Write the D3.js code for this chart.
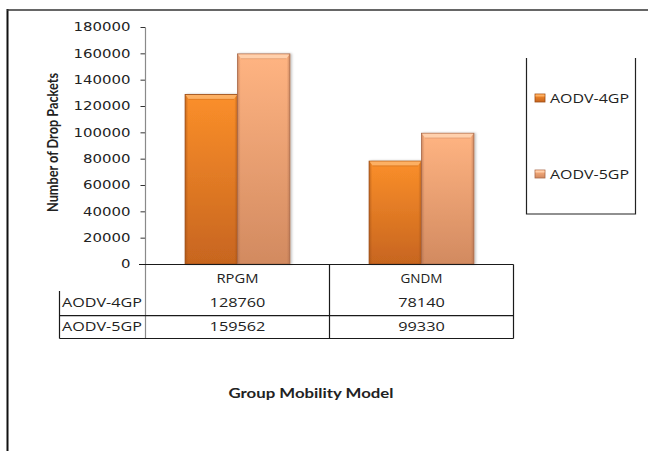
<!DOCTYPE html>
<html>
<head>
<meta charset="utf-8">
<script src="https://cdn.jsdelivr.net/npm/d3@7"></script>
<style>
  html, body { margin: 0; padding: 0; background: #fff; }
  svg { display: block; }
  text { fill: #222; }
</style>
</head>
<body>
<svg id="chart" width="648" height="451"></svg>
<script>
// Drop packets per group mobility model
const categories = ["RPGM", "GNDM"];
const seriesNames = ["AODV-4GP", "AODV-5GP"];
const aodv4gp = [128760, 78140];
const aodv5gp = [159562, 99330];
const yTicks = [0, 20000, 40000, 60000, 80000, 100000, 120000, 140000, 160000, 180000];

const seriesValues = [aodv4gp, aodv5gp];
const svg = d3.select("#chart");
const defs = svg.append("defs");

// Bar gradients: base body, then a bevel highlight on top
const palette = [
  { top: "#fb8f2a", bottom: "#c7651f", edge: "#9c4d14", hi: "#fdb063" },
  { top: "#ffb482", bottom: "#d28a60", edge: "#a8694a", hi: "#ffd0ac" }
];
palette.forEach((p, i) => {
  const g = defs.append("linearGradient").attr("id", "body" + i)
    .attr("x1", 0).attr("y1", 0).attr("x2", 0).attr("y2", 1);
  g.append("stop").attr("offset", "0%").attr("stop-color", p.top);
  g.append("stop").attr("offset", "100%").attr("stop-color", p.bottom);
  const s = defs.append("linearGradient").attr("id", "side" + i)
    .attr("x1", 0).attr("y1", 0).attr("x2", 1).attr("y2", 0);
  s.append("stop").attr("offset", "0%").attr("stop-color", p.edge).attr("stop-opacity", 0.55);
  s.append("stop").attr("offset", "6%").attr("stop-color", p.edge).attr("stop-opacity", 0);
  s.append("stop").attr("offset", "94%").attr("stop-color", p.edge).attr("stop-opacity", 0);
  s.append("stop").attr("offset", "100%").attr("stop-color", p.edge).attr("stop-opacity", 0.55);
});
// Soft shadow behind the bars
const shadow = defs.append("filter").attr("id", "shadow").attr("x", "-10%").attr("y", "-10%").attr("width", "130%").attr("height", "120%");
shadow.append("feDropShadow").attr("dx", 1.5).attr("dy", 0).attr("stdDeviation", 1.2)
  .attr("flood-color", "#000").attr("flood-opacity", 0.25);

// Outer frame (left and top edges)
svg.append("line").attr("x1", 7.5).attr("x2", 7.5).attr("y1", 9).attr("y2", 451)
  .attr("stroke", "#111").attr("stroke-width", 2);
svg.append("line").attr("x1", 7).attr("x2", 648).attr("y1", 10).attr("y2", 10)
  .attr("stroke", "#333").attr("stroke-width", 1.5);

// Scales
const y = d3.scaleLinear().domain([0, 180000]).range([264, 27]);
const x0 = d3.scaleBand().domain(categories).range([145.5, 513.5]).paddingInner(0).paddingOuter(0);
const x1 = d3.scaleBand().domain(seriesNames).range([0, x0.bandwidth()]).paddingInner(0).paddingOuter(0.755);

// Y axis
const yAxis = d3.axisLeft(y).tickValues(yTicks).tickSize(5).tickPadding(10).tickFormat(d3.format("d"));
const gy = svg.append("g").attr("transform", "translate(145.5,0)").call(yAxis);
gy.select(".domain").remove();
gy.selectAll(".tick line").attr("stroke", "#333");
gy.selectAll(".tick text")
  .attr("font-family", "DejaVu Sans, Verdana, sans-serif")
  .attr("font-size", 11.5)
  .attr("fill", "#333")
  .attr("textLength", d => String(d).length * 9.5)
  .attr("lengthAdjust", "spacingAndGlyphs");
// Axis spine runs through the data table
svg.append("line").attr("x1", 145.5).attr("x2", 145.5).attr("y1", 28).attr("y2", 338.5)
  .attr("stroke", "#8a8a8a").attr("stroke-width", 1.2);

// Y title
svg.append("text")
  .attr("transform", "translate(58,142.5) rotate(-90)")
  .attr("text-anchor", "middle")
  .attr("font-family", "Lato, 'Open Sans', sans-serif")
  .attr("font-weight", 700)
  .attr("font-size", 15)
  .attr("fill", "#151515")
  .attr("textLength", 139)
  .attr("lengthAdjust", "spacingAndGlyphs")
  .text("Number of Drop Packets");

// Bars
const barData = [];
categories.forEach((c, ci) => {
  seriesNames.forEach((s, si) => {
    barData.push({ cat: c, series: s, si, value: seriesValues[si][ci] });
  });
});
const bars = svg.append("g").selectAll("g.bar").data(barData).join("g").attr("class", "bar")
  .attr("transform", d => `translate(${x0(d.cat) + x1(d.series)},0)`);
bars.append("rect")
  .attr("x", 0).attr("y", d => y(d.value))
  .attr("width", x1.bandwidth()).attr("height", d => y(0) - y(d.value))
  .attr("fill", d => `url(#body${d.si})`)
  .attr("stroke", d => palette[d.si].edge).attr("stroke-width", 0.8)
  .attr("filter", "url(#shadow)");
bars.append("rect")
  .attr("x", 0).attr("y", d => y(d.value))
  .attr("width", x1.bandwidth()).attr("height", d => y(0) - y(d.value))
  .attr("fill", d => `url(#side${d.si})`);
// Bevelled top edge
bars.append("path")
  .attr("d", d => {
    const w = x1.bandwidth(), t = y(d.value);
    return `M0.5,${t + 0.5} L${w - 0.5},${t + 0.5} L${w - 3.5},${t + 4.5} L3.5,${t + 4.5} Z`;
  })
  .attr("fill", d => palette[d.si].hi);
bars.append("line")
  .attr("x1", 3.5).attr("x2", d => x1.bandwidth() - 3.5)
  .attr("y1", d => y(d.value) + 4.8).attr("y2", d => y(d.value) + 4.8)
  .attr("stroke", d => palette[d.si].edge).attr("stroke-opacity", 0.35).attr("stroke-width", 0.8);

// Data table below the plot
const tableColor = "#1a1a1a";
const rowTop = 264.5, rowLine = 315.7, rowBottom = 338.5, headLeft = 59.5, tableRight = 513.5;
const tbl = svg.append("g").attr("stroke", tableColor).attr("stroke-width", 1.2);
tbl.append("line").attr("x1", 139).attr("x2", tableRight).attr("y1", rowTop).attr("y2", rowTop);
tbl.append("line").attr("x1", headLeft).attr("x2", tableRight).attr("y1", rowLine).attr("y2", rowLine);
tbl.append("line").attr("x1", headLeft).attr("x2", tableRight).attr("y1", rowBottom).attr("y2", rowBottom);
tbl.append("line").attr("x1", headLeft).attr("x2", headLeft).attr("y1", 291).attr("y2", rowBottom);
tbl.selectAll("line.col").data(categories.slice(1)).join("line").attr("class", "col")
  .attr("x1", d => x0(d)).attr("x2", d => x0(d)).attr("y1", rowTop).attr("y2", rowBottom);
tbl.append("line").attr("x1", tableRight).attr("x2", tableRight).attr("y1", rowTop).attr("y2", rowBottom);

const tableFont = "'Open Sans', Lato, sans-serif";
const cellText = (sel) => sel
  .attr("font-family", tableFont).attr("font-size", 12)
  .attr("fill", "#383838").attr("dominant-baseline", "central")
  .attr("lengthAdjust", "spacingAndGlyphs");

svg.append("g").selectAll("text").data(categories).join("text")
  .attr("x", d => x0(d) + x0.bandwidth() / 2).attr("y", 278.5)
  .attr("text-anchor", "middle").call(cellText)
  .attr("textLength", d => d.length * 10.5)
  .text(d => d);

const rowY = [302.5, 326.5];
seriesNames.forEach((s, si) => {
  svg.append("text").attr("x", 62).attr("y", rowY[si]).call(cellText)
    .attr("textLength", 80).text(s);
  svg.append("g").selectAll("text").data(categories).join("text")
    .attr("x", d => x0(d) + x0.bandwidth() / 2).attr("y", rowY[si])
    .attr("text-anchor", "middle").call(cellText)
    .attr("textLength", (d, ci) => String(seriesValues[si][ci]).length * 9.3)
    .text((d, ci) => seriesValues[si][ci]);
});

// Legend
const lg = svg.append("g");
lg.append("path").attr("d", "M526.5,58 L526.5,214 L635.5,214 L635.5,58")
  .attr("fill", "none").attr("stroke", "#222").attr("stroke-width", 1.2);
const legendY = [98, 174];
seriesNames.forEach((s, si) => {
  lg.append("rect").attr("x", 535).attr("y", legendY[si] - 4).attr("width", 10).attr("height", 8)
    .attr("fill", `url(#body${si})`).attr("stroke", palette[si].edge).attr("stroke-width", 0.8);
  lg.append("rect").attr("x", 535.5).attr("y", legendY[si] - 3.5).attr("width", 9).attr("height", 2)
    .attr("fill", palette[si].hi);
  lg.append("text").attr("x", 550).attr("y", legendY[si])
    .call(cellText).attr("textLength", 79).text(s);
});

// X title
svg.append("text")
  .attr("x", 311).attr("y", 392.5)
  .attr("text-anchor", "middle").attr("dominant-baseline", "central")
  .attr("font-family", "Lato, 'Open Sans', sans-serif")
  .attr("font-weight", 700).attr("font-size", 13)
  .attr("fill", "#111")
  .attr("textLength", 165).attr("lengthAdjust", "spacingAndGlyphs")
  .text("Group Mobility Model");
</script>
</body>
</html>
